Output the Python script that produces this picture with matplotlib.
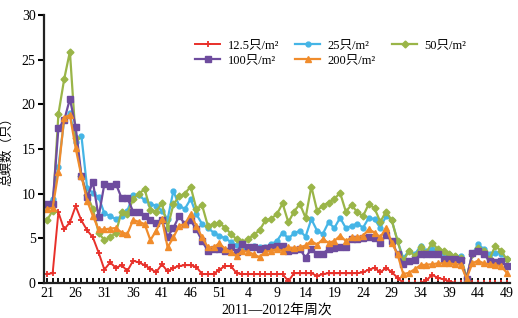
import matplotlib
matplotlib.use("Agg")
from matplotlib import pyplot as plt

plt.rcParams['font.family'] = ['Liberation Serif', 'Noto Sans CJK SC']

weeks = [str(w) for w in range(21, 53)] + [str(w) for w in range(1, 50)]

d12_5 = [1.0, 1.1, 7.9, 6.0, 6.8, 8.6, 7.0, 5.9, 5.1, 3.4,
         1.5, 2.3, 1.7, 2.0, 1.35, 2.5, 2.3, 2.0, 1.6, 1.2,
         2.1, 1.3, 1.7, 1.9, 2.0, 2.0, 1.8, 1.0, 1.0, 1.0,
         1.5, 1.9, 1.9, 1.1, 1.0, 1.0, 1.0, 1.0, 1.0, 1.0,
         1.0, 1.0, 0.2, 1.1, 1.1, 1.1, 1.1, 0.8, 1.0, 1.1,
         1.1, 1.1, 1.1, 1.1, 1.1, 1.2, 1.5, 1.7, 1.2, 1.7,
         1.2, 0.6, 0.0, 0.0, 0.0, 0.0, 0.3, 0.9, 0.6, 0.4,
         0.2, 0.0, 0.0, 0.0, 0.0, 0.0, 0.0, 0.0, 0.0, 0.0, 0.0]

d25 = [8.65, 9.4, 13.0, 18.2, 19.0, 15.8, 16.5, 10.6, 10.1, 9.6,
       7.8, 7.5, 7.15, 7.5, 8.1, 9.8, 9.8, 9.3, 8.85, 8.65,
       8.1, 7.15, 10.3, 8.65, 8.3, 9.4, 7.7, 6.6, 6.15, 5.65,
       5.3, 5.0, 4.6, 4.2, 3.95, 4.05, 4.1, 4.0, 4.0, 4.35,
       4.7, 5.65, 5.0, 5.55, 5.85, 5.2, 7.15, 5.85, 5.5, 6.8,
       6.15, 7.3, 6.15, 6.4, 6.65, 6.2, 7.3, 7.15, 6.15, 7.5,
       7.0, 4.7, 2.8, 3.6, 3.2, 4.15, 3.6, 3.8, 3.6, 3.4,
       3.2, 3.0, 3.0, 0.5, 3.2, 4.35, 3.8, 3.2, 3.4, 3.3, 2.65]

d50 = [7.0, 8.1, 18.9, 22.8, 25.9, 16.2, 12.0, 9.8, 8.3, 5.6,
       4.8, 5.1, 5.65, 8.0, 7.7, 9.4, 10.0, 10.5, 8.2, 8.0,
       8.9, 6.2, 8.8, 9.7, 10.0, 10.8, 8.3, 8.7, 6.4, 6.6,
       6.7, 6.2, 5.5, 4.9, 4.6, 4.9, 5.4, 5.9, 7.0, 7.2,
       7.7, 8.9, 6.8, 8.0, 8.85, 7.3, 10.8, 8.1, 8.65, 9.0,
       9.4, 10.1, 8.0, 8.75, 7.9, 7.5, 8.85, 8.35, 6.85, 8.0,
       7.0, 4.7, 2.5, 3.6, 3.0, 4.0, 3.4, 4.5, 3.8, 3.6,
       3.2, 3.0, 2.85, 0.6, 3.2, 3.9, 3.6, 2.7, 4.15, 3.6, 2.65]

d100 = [8.85, 8.85, 17.3, 18.2, 20.6, 17.5, 12.0, 9.6, 11.3, 7.4,
        11.1, 10.9, 11.1, 9.5, 9.5, 8.0, 7.9, 7.5, 7.0, 6.7,
        7.0, 5.2, 6.15, 7.5, 6.6, 7.0, 6.0, 4.7, 3.6, 3.85,
        3.85, 3.6, 4.0, 3.5, 4.35, 4.0, 4.0, 3.8, 3.9, 4.0,
        4.1, 4.15, 3.6, 3.7, 3.8, 2.85, 3.8, 3.2, 3.3, 3.8,
        3.9, 4.0, 4.0, 4.9, 4.9, 5.0, 5.2, 5.0, 4.5, 5.35,
        4.7, 3.2, 2.1, 2.5, 2.6, 3.2, 3.2, 3.3, 3.2, 2.7,
        2.65, 2.65, 2.6, 0.4, 3.4, 3.6, 3.2, 2.5, 2.4, 2.5, 1.9]

d200 = [8.3, 8.4, 12.4, 18.5, 18.8, 15.1, 12.0, 9.2, 7.5, 6.0,
        6.0, 6.1, 6.15, 5.65, 5.5, 7.05, 6.85, 6.6, 4.8, 5.85,
        7.15, 4.0, 5.1, 6.4, 6.6, 7.7, 6.4, 5.1, 4.0, 4.0,
        4.45, 3.8, 3.5, 3.0, 3.6, 3.5, 3.2, 2.9, 3.5, 3.6,
        3.8, 3.6, 4.0, 3.9, 4.0, 4.2, 4.7, 4.3, 4.9, 4.5,
        4.7, 5.3, 4.7, 5.1, 5.1, 5.3, 6.0, 5.65, 5.1, 6.2,
        4.5, 3.2, 1.0, 1.15, 1.55, 2.0, 2.05, 2.1, 2.2, 2.2,
        2.2, 2.1, 2.05, 0.5, 2.2, 2.5, 2.2, 2.1, 2.0, 1.9, 1.15]

x = list(range(len(weeks)))

fig = plt.figure(figsize=(5.18, 3.18), dpi=100)
ax = fig.add_axes([0.085, 0.11, 0.9, 0.843])

l1, = ax.plot(x, d12_5, color='#e8302a', marker='+', markersize=5, mew=1.3, lw=1.4, label='12.5只/m²')
l2, = ax.plot(x, d25, color='#45b5e6', marker='o', markersize=3.5, lw=1.6, label='25只/m²')
l3, = ax.plot(x, d50, color='#9ab548', marker='D', markersize=3.5, lw=1.6, label='50只/m²')
l4, = ax.plot(x, d100, color='#6e4c9e', marker='s', markersize=3.8, lw=1.6, label='100只/m²')
l5, = ax.plot(x, d200, color='#f08c2c', marker='^', markersize=4.2, lw=1.6, label='200只/m²')

ax.set_ylim(0, 30)
ax.set_xlim(-0.5, 80.6)
ax.set_yticks(range(0, 31, 5))
ax.set_xticks(x)
ax.set_xticklabels([w if i % 5 == 0 else '' for i, w in enumerate(weeks)])
ax.tick_params(axis='x', direction='in', length=3.5, width=1.3, labelsize=10, pad=3)
ax.tick_params(axis='y', direction='out', length=4, width=1.5, labelsize=10, pad=2)

for s in ['top', 'right']:
    ax.spines[s].set_visible(False)
for s in ['left', 'bottom']:
    ax.spines[s].set_linewidth(1.6)
    ax.spines[s].set_color('#222222')

ax.set_ylabel('总螟数（只）', fontsize=9, labelpad=6)
ax.set_xlabel('2011—2012年周次', fontsize=10, labelpad=3)

ax.legend([l1, l4, l2, l5, l3], [l1.get_label(), l4.get_label(), l2.get_label(), l5.get_label(), l3.get_label()],
          ncol=3, frameon=False, loc='upper left', bbox_to_anchor=(0.3, 0.95),
          fontsize=9, handlelength=2.0, columnspacing=1.3, labelspacing=0.25, handletextpad=0.6)

plt.savefig('out.png', dpi=100)
